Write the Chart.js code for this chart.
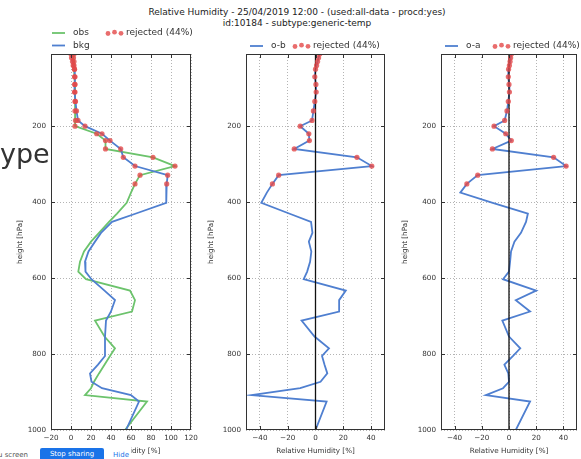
<!DOCTYPE html>
<html>
<head>
<meta charset="utf-8">
<script src="https://cdn.jsdelivr.net/npm/chart.js@4.4.1/dist/chart.umd.min.js"></script>
<style>
  body { margin: 0; width: 581px; height: 459px; overflow: hidden; background: #fff; position: relative; font-family: "DejaVu Sans", sans-serif; }
  canvas { position: absolute; top: 0; }
  #title { position: absolute; left: 97px; width: 400px; top: 7px; text-align: center; font-size: 9px; line-height: 10.5px; color: #222; }
  #bg { position: absolute; left: 0; top: 140px; font-size: 27px; line-height: 27px; color: #333; }
  #share { position: absolute; left: 0; top: 445px; width: 131px; height: 14px; background: #fff; font-size: 7px; }
  #share .s1 { position: absolute; left: -2px; top: 6px; color: #555; white-space: nowrap; }
  #share .btn { position: absolute; left: 40px; top: 3px; width: 64px; height: 13px; line-height: 13px; background: #1a73e8; color: #fff; text-align: center; border-radius: 2px; }
  #share .hide { position: absolute; left: 113px; top: 6px; color: #1a73e8; }
</style>
</head>
<body>
<div id="title">Relative Humidity - 25/04/2019 12:00 - (used:all-data - procd:yes)<br>id:10184 - subtype:generic-temp</div>
<canvas id="c1" width="200" height="459" style="left:0"></canvas>
<canvas id="c2" width="190" height="459" style="left:200px"></canvas>
<canvas id="c3" width="191" height="459" style="left:390px"></canvas>
<div id="bg">ype</div>
<div id="share"><span class="s1">u screen</span><span class="btn">Stop sharing</span><span class="hide">Hide</span></div>
<script>
// pressure levels of the sounding [hPa]
const levels = [10, 20, 30, 40, 50, 70, 90, 110, 135, 160, 185,
  200, 220, 238, 260, 282, 305, 329, 352,
  375, 402, 430, 452, 481, 504, 530, 557, 583, 603,
  633, 658, 688, 712, 754, 785, 805, 828, 851, 873,
  890, 908, 925, 1000];
const rejected = [1, 1, 1, 1, 1, 1, 1, 1, 1, 1, 1,
  1, 1, 1, 1, 1, 1, 1, 1,
  0, 0, 0, 0, 0, 0, 0, 0, 0, 0,
  0, 0, 0, 0, 0, 0, 0, 0, 0, 0,
  0, 0, 0, 0];
const obs = [3, 2.5, 3, 3, 3.5, 3.5, 4, 4, 4, 4, 4.5,
  4, 25.7, 34.5, 34.5, 82, 104, 69, 64,
  60, 55.7, 46, 38, 28, 20, 13, 9, 7.3, 15,
  59, 64, 61, 24, 33.5, 44, 39, 33.5, 28, 23,
  20, 14, 76, 54];
const bkg = [0, 0.5, 1.5, 2.2, 3.5, 4, 3.7, 3.5, 4.5, 5.5, 7,
  14, 31, 39, 49.7, 52.3, 64, 96.7, 95.7,
  95.5, 95, 65, 41, 30, 24, 17.5, 14, 14.5, 20.4,
  33.5, 44, 40, 35, 34, 34, 34, 27, 19, 20.5,
  31, 60, 68, 55];
const omb = [3, 2.2, 1.5, 0.8, 0, -0.5, 0.3, 0.5, -0.5, -1.5, -2.5,
  -11, -4.8, -4.4, -15.3, 29.8, 40.5, -26.5, -31,
  -35, -39, -19, -3.2, -2.2, -4.8, -3, -3.9, -6, -8.5,
  21.8, 17, 17, -10, -0.7, 9.7, 4.7, 6.5, 8.5, 3.6,
  -11, -46, 8, 0];
const oma = [1.8, 1.2, 0.8, 0.3, -0.3, -0.5, 0, 0.3, -0.5, -1.5, -3.2,
  -11, -2.4, 1.7, -12.2, 32.8, 42, -23, -31,
  -35.8, -12, 13.9, 12.5, 8.8, 4, 1.5, 0.8, 0, -4.4,
  20, 5, 15.5, -4.9, 0, 8.3, 3, -3.4, -0.5, 0,
  -4.4, -17, 15.5, 5];

const pressureTicks = [200, 400, 600, 800, 1000];
const rhTicks = [-20, 0, 20, 40, 60, 80, 100, 120];
const depTicks = [-40, -20, 0, 20, 40];

const GREEN = '#6cc36c';
const BLUE = '#4f7fd0';
const RED = 'rgba(228, 72, 72, 0.8)';

const nRej = rejected.filter(Boolean).length;
const rejLabel = 'rejected (' + Math.round(100 * nRej / levels.length) + '%)';

function pts(vals, onlyRejected) {
  return levels.map((p, i) => ({ x: vals[i], y: p }))
    .filter((_, i) => !onlyRejected || rejected[i]);
}
function lineSet(vals, color, order) {
  return { data: pts(vals), showLine: true, borderColor: color, borderWidth: 1.8, pointRadius: 0, order: order };
}
function dotSet(vals) {
  return { data: pts(vals, true), showLine: false, pointRadius: 2.6, pointBackgroundColor: RED, pointBorderWidth: 0, order: 0 };
}
function zeroSet() {
  return { data: [{ x: 0, y: levels[0] }, { x: 0, y: 1000 }], showLine: true, borderColor: '#111', borderWidth: 1.3, pointRadius: 0, order: 1 };
}
const fmt = v => (v < 0 ? '\u2212' + Math.abs(v) : String(v));

function framePlugin(entries) {
  return {
    id: 'frame',
    afterDraw(chart) {
      const { ctx, chartArea: a, scales: { x, y } } = chart;
      ctx.save();
      ctx.strokeStyle = '#333';
      ctx.lineWidth = 1;
      ctx.strokeRect(Math.round(a.left) + 0.5, Math.round(a.top) + 0.5, Math.round(a.right - a.left) - 1, Math.round(a.bottom - a.top) - 1);
      ctx.beginPath();
      x.ticks.forEach(t => {
        const px = Math.round(x.getPixelForValue(t.value)) + 0.5;
        if (px < a.left + 2 || px > a.right - 2) return;
        ctx.moveTo(px, a.bottom); ctx.lineTo(px, a.bottom - 4);
        ctx.moveTo(px, a.top); ctx.lineTo(px, a.top + 4);
      });
      y.ticks.forEach(t => {
        const py = Math.round(y.getPixelForValue(t.value)) + 0.5;
        if (py < a.top + 2 || py > a.bottom - 2) return;
        ctx.moveTo(a.left, py); ctx.lineTo(a.left + 4, py);
        ctx.moveTo(a.right, py); ctx.lineTo(a.right - 4, py);
      });
      ctx.stroke();

      // legend, matplotlib style
      ctx.font = '9px "DejaVu Sans"';
      ctx.textBaseline = 'middle';
      entries.forEach(e => {
        if (e.type === 'line') {
          ctx.strokeStyle = e.color;
          ctx.lineWidth = 1.8;
          ctx.beginPath();
          ctx.moveTo(e.x, e.y); ctx.lineTo(e.x + 13, e.y);
          ctx.stroke();
          ctx.fillStyle = '#333';
          ctx.fillText(e.label, e.x + 21, e.y);
        } else {
          ctx.fillStyle = RED;
          [[2, 0.5], [8.5, -0.8], [15, 0.3]].forEach(([dx, dy]) => {
            ctx.beginPath();
            ctx.arc(e.x + dx, e.y + dy, 2.4, 0, Math.PI * 2);
            ctx.fill();
          });
          ctx.fillStyle = '#333';
          ctx.fillText(e.label, e.x + 20, e.y);
        }
      });
      ctx.restore();
    }
  };
}

function panel(id, cfg) {
  return new Chart(document.getElementById(id), {
    type: 'scatter',
    data: { datasets: cfg.datasets },
    options: {
      responsive: false,
      animation: false,
      layout: { padding: { top: 54, left: cfg.padLeft, right: cfg.padRight, bottom: 0 } },
      plugins: { legend: { display: false }, tooltip: { enabled: false } },
      scales: {
        x: {
          type: 'linear', min: cfg.xMin, max: cfg.xMax,
          afterBuildTicks: s => { s.ticks = cfg.xTicks.map(v => ({ value: v })); },
          afterFit: s => { s.height = 29; s.paddingLeft = 0; s.paddingRight = 0; },
          grid: { color: '#b4b4b4', lineWidth: 1, drawTicks: false },
          border: { display: false, dash: [1, 2] },
          ticks: { padding: 4, color: '#333', font: { family: 'DejaVu Sans', size: 7.2 }, maxRotation: 0, autoSkip: false, callback: v => fmt(v) },
          title: { display: true, text: 'Relative Humidity [%]', color: '#333', font: { family: 'DejaVu Sans', size: 7.2 }, padding: { top: 0, bottom: 4 } }
        },
        y: {
          type: 'linear', reverse: true, min: levels[0], max: 1000,
          afterBuildTicks: s => { s.ticks = pressureTicks.map(v => ({ value: v })); },
          afterFit: s => { s.width = cfg.yWidth; s.paddingTop = 0; s.paddingBottom = 0; },
          grid: { color: '#b4b4b4', lineWidth: 1, drawTicks: false },
          border: { display: false, dash: [1, 2] },
          ticks: { padding: 5, color: '#333', font: { family: 'DejaVu Sans', size: 7.2 }, autoSkip: false, callback: v => String(v) },
          title: { display: true, text: 'height [hPa]', color: '#333', font: { family: 'DejaVu Sans', size: 7.2 }, padding: { top: 4, bottom: 0 } }
        }
      }
    },
    plugins: [framePlugin(cfg.legend)]
  });
}

panel('c1', {
  padLeft: 12, yWidth: 39, padRight: 9,
  xMin: -20, xMax: 120, xTicks: rhTicks,
  datasets: [dotSet(obs), dotSet(bkg), lineSet(bkg, BLUE, 2), lineSet(obs, GREEN, 3)],
  legend: [
    { type: 'line', color: GREEN, label: 'obs', x: 52, y: 33 },
    { type: 'dots', label: rejLabel, x: 106, y: 33 },
    { type: 'line', color: BLUE, label: 'bkg', x: 52, y: 45.5 }
  ]
});
panel('c2', {
  padLeft: 3, yWidth: 43, padRight: 5,
  xMin: -50, xMax: 50, xTicks: depTicks,
  datasets: [dotSet(omb), zeroSet(), lineSet(omb, BLUE, 2)],
  legend: [
    { type: 'line', color: BLUE, label: 'o-b', x: 50, y: 46 },
    { type: 'dots', label: rejLabel, x: 93, y: 46 }
  ]
});
panel('c3', {
  padLeft: 7, yWidth: 44, padRight: 3,
  xMin: -50, xMax: 50, xTicks: depTicks,
  datasets: [dotSet(oma), zeroSet(), lineSet(oma, BLUE, 2)],
  legend: [
    { type: 'line', color: BLUE, label: 'o-a', x: 55, y: 46 },
    { type: 'dots', label: rejLabel, x: 103, y: 46 }
  ]
});
</script>
</body>
</html>
